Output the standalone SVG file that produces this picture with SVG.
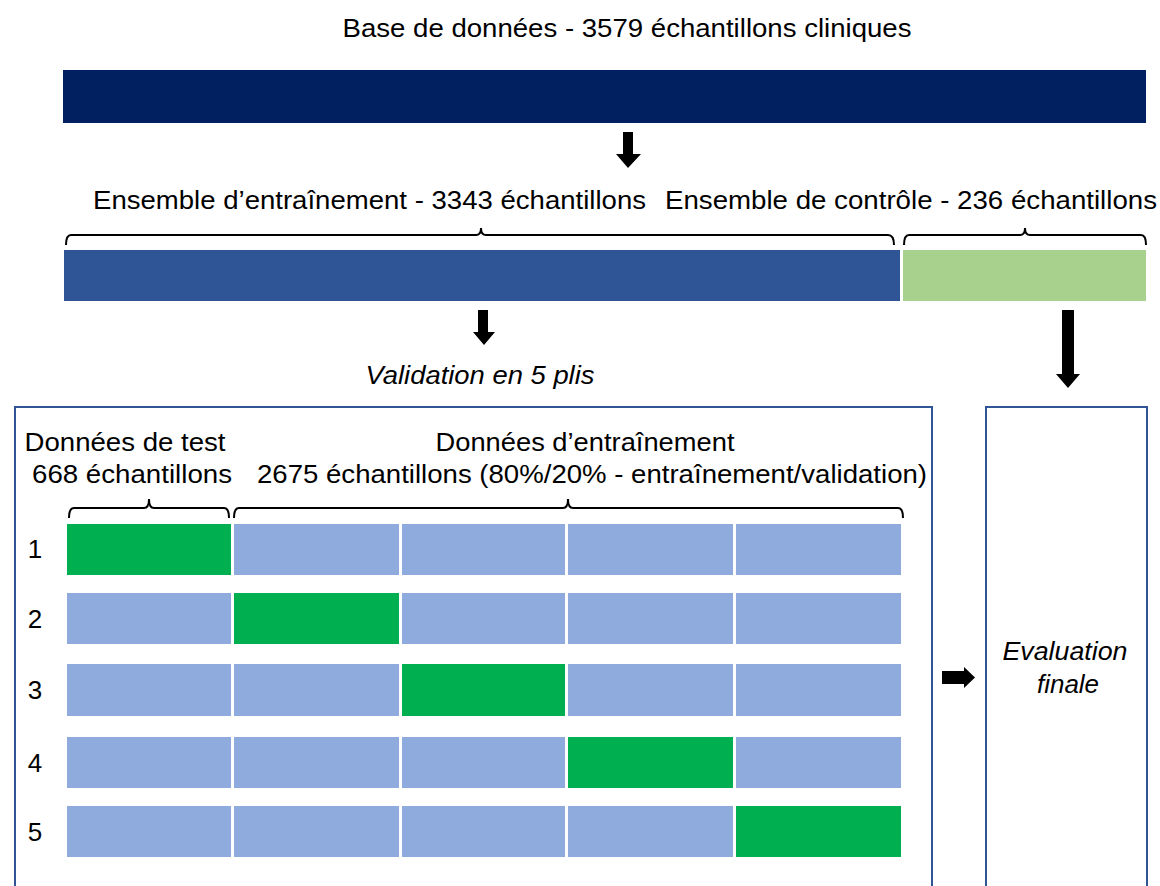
<svg xmlns="http://www.w3.org/2000/svg" width="1160" height="886" viewBox="0 0 1160 886">
<style>
text{font-family:"Liberation Sans",Arial,sans-serif;font-size:26px;fill:#000}
.it{font-style:italic}
.mid{text-anchor:middle}
.brace{fill:none;stroke:#000;stroke-width:2}
.box{fill:none;stroke:#2f5597;stroke-width:2}
.test{fill:#00b050}
.train{fill:#8faadc}
.arrow{fill:#000}
</style>
<rect width="1160" height="886" fill="#fff"/>
<g id="database">
<text x="627" y="37" class="mid" textLength="569" lengthAdjust="spacingAndGlyphs">Base de données - 3579 échantillons cliniques</text>
<rect x="63" y="70" width="1083" height="53" fill="#002060"/>
</g>
<g id="training-set">
<text x="93" y="209" textLength="553" lengthAdjust="spacingAndGlyphs">Ensemble d’entraînement - 3343 échantillons</text>
<rect x="64" y="250" width="836" height="51" fill="#2f5597"/>
</g>
<g id="control-set">
<text x="665" y="209" textLength="492" lengthAdjust="spacingAndGlyphs">Ensemble de contrôle - 236 échantillons</text>
<rect x="903" y="250" width="243" height="51" fill="#a9d18e"/>
</g>
<g id="validation-label">
<text x="480" y="384" class="mid it" textLength="229" lengthAdjust="spacingAndGlyphs">Validation en 5 plis</text>
</g>
<g id="cross-validation">
<path class="box" d="M15,890 V407 H932 V890"/>
<text x="125" y="451" class="mid" textLength="201" lengthAdjust="spacingAndGlyphs">Données de test</text>
<text x="132" y="483" class="mid" textLength="200" lengthAdjust="spacingAndGlyphs">668 échantillons</text>
<text x="585" y="451" class="mid" textLength="299" lengthAdjust="spacingAndGlyphs">Données d’entraînement</text>
<text x="592" y="483" class="mid" textLength="670" lengthAdjust="spacingAndGlyphs">2675 échantillons (80%/20% - entraînement/validation)</text>
<g id="fold-1">
<text x="35" y="558" class="mid">1</text>
<rect class="test" x="67" y="524" width="164" height="51"/>
<rect class="train" x="234" y="524" width="165" height="51"/>
<rect class="train" x="402" y="524" width="163" height="51"/>
<rect class="train" x="568" y="524" width="165" height="51"/>
<rect class="train" x="736" y="524" width="165" height="51"/>
</g>
<g id="fold-2">
<text x="35" y="628" class="mid">2</text>
<rect class="train" x="67" y="593" width="164" height="51"/>
<rect class="test" x="234" y="593" width="165" height="51"/>
<rect class="train" x="402" y="593" width="163" height="51"/>
<rect class="train" x="568" y="593" width="165" height="51"/>
<rect class="train" x="736" y="593" width="165" height="51"/>
</g>
<g id="fold-3">
<text x="35" y="699" class="mid">3</text>
<rect class="train" x="67" y="664" width="164" height="52"/>
<rect class="train" x="234" y="664" width="165" height="52"/>
<rect class="test" x="402" y="664" width="163" height="52"/>
<rect class="train" x="568" y="664" width="165" height="52"/>
<rect class="train" x="736" y="664" width="165" height="52"/>
</g>
<g id="fold-4">
<text x="35" y="772" class="mid">4</text>
<rect class="train" x="67" y="737" width="164" height="51"/>
<rect class="train" x="234" y="737" width="165" height="51"/>
<rect class="train" x="402" y="737" width="163" height="51"/>
<rect class="test" x="568" y="737" width="165" height="51"/>
<rect class="train" x="736" y="737" width="165" height="51"/>
</g>
<g id="fold-5">
<text x="35" y="841" class="mid">5</text>
<rect class="train" x="67" y="806" width="164" height="51"/>
<rect class="train" x="234" y="806" width="165" height="51"/>
<rect class="train" x="402" y="806" width="163" height="51"/>
<rect class="train" x="568" y="806" width="165" height="51"/>
<rect class="test" x="736" y="806" width="165" height="51"/>
</g>
</g>
<g id="final-evaluation">
<path class="box" d="M986,890 V407 H1147 V890"/>
<text x="1065" y="660" class="mid it" textLength="125" lengthAdjust="spacingAndGlyphs">Evaluation</text>
<text x="1068" y="693" class="mid it">finale</text>
</g>
<g id="connectors">
<path class="brace" d="M66,245 Q66,235 71,235 H476 Q481,235 481,228 Q481,235 486,235 H888 Q894,235 894,245"/>
<path class="brace" d="M904,245 Q904,235 909,235 H1020 Q1025,235 1025,228 Q1025,235 1030,235 H1141 Q1146,235 1146,245"/>
<path class="brace" d="M69,518 Q69,508 74,508 H144 Q149,508 149,499 Q149,508 154,508 H224 Q229,508 229,518"/>
<path class="brace" d="M234,518 Q234,508 239,508 H563 Q568,508 568,499 Q568,508 573,508 H898 Q903,508 903,518"/>
<path class="arrow" d="M623,132 H633 V154 H641 L628,168 L616,154 H623 Z"/>
<path class="arrow" d="M478,310 H488 V332 H495 L484,345 L473,332 H478 Z"/>
<path class="arrow" d="M1062,310 H1074 V374 H1080 L1068,388 L1056,374 H1062 Z"/>
<path class="arrow" d="M942,671 H964 V667 L975,677.5 L964,688 V684 H942 Z"/>
</g>
</svg>
